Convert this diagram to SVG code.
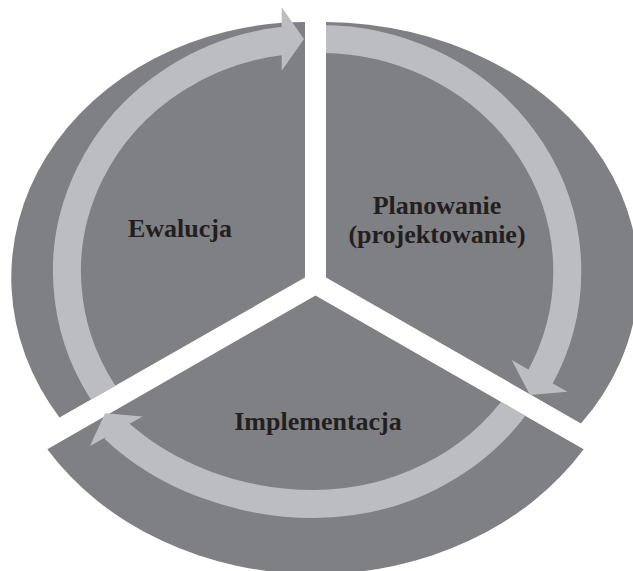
<svg xmlns="http://www.w3.org/2000/svg" width="633" height="571" viewBox="0 0 633 571">
  <style>
    .sector { fill: #7f8084; }
    .band { fill: none; stroke: #bcbdc1; stroke-width: 28; stroke-linecap: butt; }
    .head { fill: #bcbdc1; }
    .label { font-family: "Liberation Serif", "Times New Roman", serif; font-weight: bold; font-size: 26px; fill: #231f20; text-anchor: middle; }
  </style>
  <defs>
    <clipPath id="sectorsClip">
      <path d="M305 277.5 L305 22 A295 255.5 0 0 0 59.5 417.5 Z"/>
      <path d="M326 277.5 L326 22 A316 255 0 0 1 581 423.5 Z"/>
      <path d="M315.5 295.5 L47.3 449.3 A316 265 0 0 0 583.7 449.3 Z"/>
    </clipPath>
  </defs>
  <rect x="0" y="0" width="633" height="571" fill="#ffffff"/>

  <g id="ewaluacja">
    <path class="sector" d="M305 277.5 L305 22 A295 255.5 0 0 0 59.5 417.5 Z"/>
    <text class="label" x="180" y="237">Ewalucja</text>
  </g>

  <g id="planowanie">
    <path class="sector" d="M326 277.5 L326 22 A316 255 0 0 1 581 423.5 Z"/>
    <text class="label" x="437" y="213.5">Planowanie</text>
    <text class="label" x="437" y="243">(projektowanie)</text>
  </g>

  <g id="implementacja">
    <path class="sector" d="M315.5 295.5 L47.3 449.3 A316 265 0 0 0 583.7 449.3 Z"/>
    <text class="label" x="318" y="429.5">Implementacja</text>
  </g>

  <g id="connectors">
    <g clip-path="url(#sectorsClip)">
      <path class="band" d="M109.95 402.5 A247 232.5 0 0 1 285.5 40.5"/>
      <path class="band" d="M315.5 39 A247 232.5 0 0 1 539 379.5"/>
      <path class="band" d="M519.1 401 A247 232.5 0 0 1 314 504 A268 222 0 0 1 114 428.5"/>
    </g>
    <polygon class="head" points="281.7,7.3 304,39 281.7,70.7"/>
    <polygon class="head" points="511.7,360 530,395 567.3,391.7"/>
    <polygon class="head" points="142.5,416.5 105,413.3 90,446"/>
  </g>
</svg>
